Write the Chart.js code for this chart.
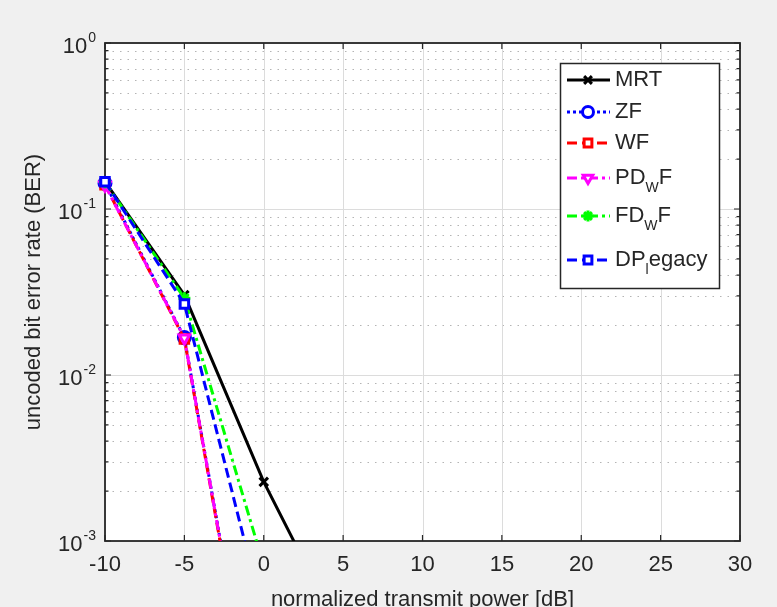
<!DOCTYPE html>
<html>
<head>
<meta charset="utf-8">
<script src="https://cdn.jsdelivr.net/npm/chart.js@4.4.0/dist/chart.umd.min.js"></script>
<style>
html, body { margin: 0; padding: 0; background: #f0f0f0; }
#wrap { width: 777px; height: 607px; }
</style>
</head>
<body>
<div id="wrap"><canvas id="ber-graph" width="777" height="607"></canvas></div>
<script>
// values (BER vs normalized transmit power in dB)
const powerDb = [-10, -5, 0, 5];
const berMRT = [0.146, 0.0303, 0.00227, 0.00026];
const berZF = [0.143, 0.0168, 0.000034];
const berWF = [0.140, 0.0165, 0.000032];
const berPDWF = [0.139, 0.0167, 0.000033];
const berFDWF = [0.145, 0.0290, 0.00071];
const berDPlegacy = [0.146, 0.0268, 0.00035];

const xTicks = [-10, -5, 0, 5, 10, 15, 20, 25, 30];
const yDecades = [1, 0.1, 0.01, 0.001];
const yExponents = ['0', '-1', '-2', '-3'];

const FONT = "'Liberation Sans', Arial, sans-serif";
const INK = '#262626';
const LW = 3;

function pts(vals) {
    return vals.map((v, i) => ({ x: powerDb[i], y: v }));
}

// legend entries: text parts as [text, isSubscript]
const legendItems = [
    { label: 'MRT', parts: [['MRT', 0]], color: '#000000', dash: [], style: 'crossRot', rot: 0 },
    { label: 'ZF', parts: [['ZF', 0]], color: '#0000ff', dash: [3, 3], style: 'circle', rot: 0 },
    { label: 'WF', parts: [['WF', 0]], color: '#ff0000', dash: [10, 5], style: 'rect', rot: 0 },
    { label: 'PD_WF', parts: [['PD', 0], ['W', 1], ['F', 0]], color: '#ff00ff', dash: [10, 4, 3, 4], style: 'triangle', rot: 180 },
    { label: 'FD_WF', parts: [['FD', 0], ['W', 1], ['F', 0]], color: '#00ff00', dash: [10, 4, 3, 4], style: 'star', rot: 0 },
    { label: 'DP_legacy', parts: [['DP', 0], ['l', 1], ['egacy', 0]], color: '#0000ff', dash: [10, 5], style: 'rect', rot: 0 }
];
const seriesData = [berMRT, berZF, berWF, berPDWF, berFDWF, berDPlegacy];

const datasets = legendItems.map((it, i) => ({
    label: it.label,
    data: pts(seriesData[i]),
    borderColor: it.color,
    borderWidth: LW,
    borderDash: it.dash,
    pointStyle: it.style,
    pointRotation: it.rot,
    pointRadius: 6,
    pointBorderWidth: LW,
    pointBorderColor: it.color,
    pointBackgroundColor: '#ffffff',
    tension: 0,
    order: legendItems.length - i,
    clip: { left: 10, top: 10, right: 10, bottom: 0 }
}));

const matlabFrame = {
    id: 'matlabFrame',
    beforeDatasetsDraw(chart) {
        const ctx = chart.ctx;
        const a = chart.chartArea;
        const xs = chart.scales.x, ys = chart.scales.y;
        ctx.save();
        ctx.fillStyle = '#ffffff';
        ctx.fillRect(a.left, a.top, a.right - a.left, a.bottom - a.top);

        // minor dotted grid
        ctx.strokeStyle = '#b4b4b4';
        ctx.lineWidth = 1;
        ctx.setLineDash([1.5, 6]);
        yDecades.slice(1).forEach(d => {
            for (let m = 2; m <= 9; m++) {
                const y = Math.round(ys.getPixelForValue(d * m)) + 0.5;
                ctx.beginPath();
                ctx.moveTo(a.left, y);
                ctx.lineTo(a.right, y);
                ctx.stroke();
            }
        });
        // major grid
        ctx.setLineDash([]);
        ctx.strokeStyle = '#dcdcdc';
        xTicks.forEach(t => {
            const x = Math.round(xs.getPixelForValue(t)) + 0.5;
            ctx.beginPath();
            ctx.moveTo(x, a.top);
            ctx.lineTo(x, a.bottom);
            ctx.stroke();
        });
        yDecades.forEach(d => {
            const y = Math.round(ys.getPixelForValue(d)) + 0.5;
            ctx.beginPath();
            ctx.moveTo(a.left, y);
            ctx.lineTo(a.right, y);
            ctx.stroke();
        });

        // tick marks
        ctx.strokeStyle = INK;
        ctx.lineWidth = 1.2;
        xTicks.forEach(t => {
            const x = xs.getPixelForValue(t);
            ctx.beginPath();
            ctx.moveTo(x, a.bottom); ctx.lineTo(x, a.bottom - 6);
            ctx.moveTo(x, a.top); ctx.lineTo(x, a.top + 6);
            ctx.stroke();
        });
        yDecades.forEach((d, k) => {
            for (let m = 1; m <= 9; m++) {
                if (k === 0 && m > 1) break;
                const y = ys.getPixelForValue(d * m);
                const len = m === 1 ? 6 : 3.5;
                ctx.beginPath();
                ctx.moveTo(a.left, y); ctx.lineTo(a.left + len, y);
                ctx.moveTo(a.right, y); ctx.lineTo(a.right - len, y);
                ctx.stroke();
            }
        });

        // box
        ctx.lineWidth = 1.8;
        ctx.strokeRect(a.left, a.top, a.right - a.left, a.bottom - a.top);

        // y tick labels with superscripts
        ctx.fillStyle = INK;
        ctx.textBaseline = 'alphabetic';
        yDecades.forEach((d, k) => {
            const y = ys.getPixelForValue(d);
            ctx.font = '14px ' + FONT;
            const ew = ctx.measureText(yExponents[k]).width;
            const right = 96;
            ctx.textAlign = 'left';
            ctx.fillText(yExponents[k], right - ew, y - 1);
            ctx.font = '22px ' + FONT;
            ctx.textAlign = 'right';
            ctx.fillText('10', right - ew - 1, y + 10);
        });

        // axis titles
        ctx.font = '22px ' + FONT;
        ctx.textAlign = 'center';
        ctx.textBaseline = 'middle';
        ctx.fillText('normalized transmit power [dB]', (a.left + a.right) / 2, 600);
        ctx.translate(34, (a.top + a.bottom) / 2);
        ctx.rotate(-Math.PI / 2);
        ctx.fillText('uncoded bit error rate (BER)', 0, 0);
        ctx.restore();
    },
    afterDraw(chart) {
        const ctx = chart.ctx;
        ctx.save();
        const bx = 560, by = 63, bw = 159, bh = 225;
        ctx.fillStyle = '#ffffff';
        ctx.fillRect(bx, by, bw, bh);
        ctx.strokeStyle = '#262626';
        ctx.lineWidth = 1.5;
        ctx.strokeRect(bx + 0.5, by + 0.5, bw, bh);
        const rowY = [80, 112, 143, 178, 216, 260];
        legendItems.forEach((it, i) => {
            const y = rowY[i];
            ctx.strokeStyle = it.color;
            ctx.lineWidth = LW;
            ctx.setLineDash(it.dash);
            ctx.beginPath();
            ctx.moveTo(567, y);
            ctx.lineTo(610, y);
            ctx.stroke();
            ctx.setLineDash([]);
            ctx.fillStyle = '#ffffff';
            Chart.helpers.drawPoint(ctx, {
                pointStyle: it.style, radius: 5.5, rotation: it.rot, borderWidth: LW
            }, 588, y);
            // text with subscripts
            let x = 615;
            ctx.fillStyle = INK;
            ctx.textAlign = 'left';
            ctx.textBaseline = 'middle';
            it.parts.forEach(([txt, sub]) => {
                ctx.font = (sub ? '14px ' : '22px ') + FONT;
                ctx.fillText(txt, x, sub ? y + 10 : y);
                x += ctx.measureText(txt).width;
            });
        });
        ctx.restore();
    }
};

new Chart(document.getElementById('ber-graph').getContext('2d'), {
    type: 'line',
    data: { datasets: datasets },
    options: {
        responsive: false,
        animation: false,
        devicePixelRatio: 1,
        layout: { padding: { top: 43, right: 37, left: 0, bottom: 0 } },
        plugins: { legend: { display: false }, tooltip: { enabled: false } },
        scales: {
            x: {
                type: 'linear',
                min: -10,
                max: 30,
                afterFit(scale) { scale.height = 66; },
                afterBuildTicks(scale) { scale.ticks = xTicks.map(v => ({ value: v })); },
                grid: { display: false, drawTicks: false },
                border: { display: false },
                ticks: {
                    color: INK,
                    padding: 11,
                    maxRotation: 0,
                    font: { family: FONT, size: 22 }
                }
            },
            y: {
                type: 'logarithmic',
                min: 0.001,
                max: 1,
                afterFit(scale) { scale.width = 105; },
                grid: { display: false, drawTicks: false },
                border: { display: false },
                ticks: { display: false }
            }
        }
    },
    plugins: [matlabFrame]
});
</script>
</body>
</html>
